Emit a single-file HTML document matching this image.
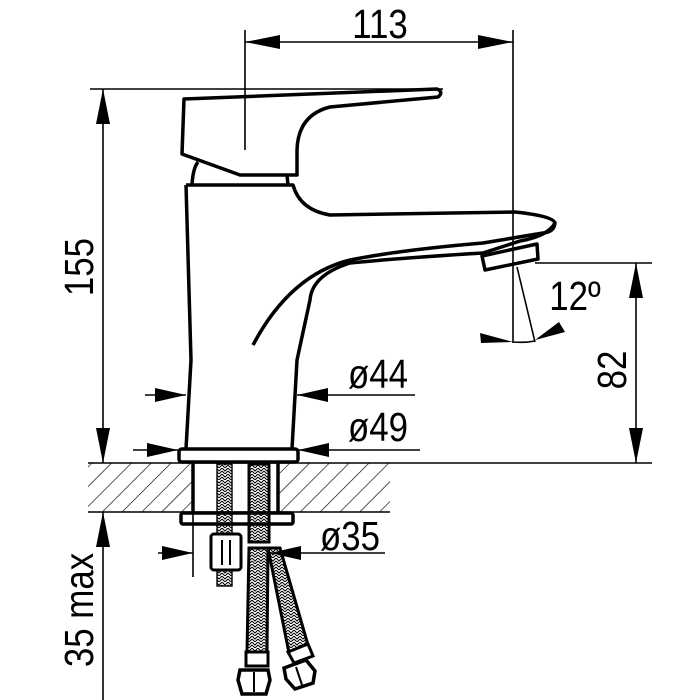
<!DOCTYPE html>
<html><head><meta charset="utf-8"><style>
html,body{margin:0;padding:0;background:#fff}
svg{display:block}
text{font-family:"Liberation Sans",sans-serif;font-size:41px;fill:#000}
</style></head><body>
<svg width="700" height="700" viewBox="0 0 700 700" xmlns="http://www.w3.org/2000/svg">
<defs>
<pattern id="h" patternUnits="userSpaceOnUse" width="14" height="14" patternTransform="rotate(45)">
<line x1="0" y1="0" x2="0" y2="14" stroke="#000" stroke-width="1.3"/>
</pattern>
<pattern id="b" patternUnits="userSpaceOnUse" width="6" height="6">
<path d="M0 0 L3 3 L6 0 M0 3 L3 6 L6 3" stroke="#000" stroke-width="1" fill="none"/>
</pattern>
</defs>
<rect x="88" y="463" width="302" height="49" fill="url(#h)"/>
<rect x="193" y="463" width="85" height="49" fill="#fff"/>
<g stroke="#000" stroke-width="1.6" fill="none">
<line x1="88" y1="463" x2="652" y2="463"/>
<line x1="88" y1="512" x2="390" y2="512"/>
<line x1="245" y1="30" x2="245" y2="150"/>
<line x1="513" y1="30" x2="513" y2="343"/>
<line x1="245" y1="42" x2="513" y2="42"/>
<line x1="90" y1="89" x2="443" y2="89"/>
<line x1="103" y1="89" x2="103" y2="463"/>
<line x1="103" y1="512" x2="103" y2="700"/>
<line x1="535" y1="263" x2="652" y2="263"/>
<line x1="636" y1="263" x2="636" y2="463"/>
<line x1="517" y1="267" x2="535" y2="342"/>
<path d="M513 342 Q525 343 535 341"/>
<line x1="145" y1="395" x2="186" y2="395"/>
<line x1="297" y1="395" x2="415" y2="395"/>
<line x1="133" y1="450" x2="178" y2="450"/>
<line x1="298" y1="450" x2="420" y2="450"/>
<line x1="158" y1="553" x2="193" y2="553"/>
<line x1="193" y1="512" x2="193" y2="577"/>
<line x1="270" y1="553" x2="385" y2="553"/>
</g>
<g fill="#000">
<polygon points="245,42 280,35 280,49"/>
<polygon points="513,42 478,35 478,49"/>
<polygon points="103,89 96,124 110,124"/>
<polygon points="103,463 96,428 110,428"/>
<polygon points="103,512 96,547 110,547"/>
<polygon points="636,263 629,298 643,298"/>
<polygon points="636,463 629,428 643,428"/>
<polygon points="186,395 155,388 155,402"/>
<polygon points="297,395 328,388 328,402"/>
<polygon points="178,450 147,443 147,457"/>
<polygon points="298,450 329,443 329,457"/>
<polygon points="193,553 162,546 162,560"/>
<polygon points="270,553 301,546 301,560"/>
<polygon points="513,342 480,333 481,343"/>
<polygon points="535,340 559,322 565,332"/>
</g>
<g stroke="#000" stroke-width="3.5" fill="none" stroke-linejoin="round">
<path d="M184 99 L437 89 Q444 92 438 97 L330 107 Q298 115 297 150 L297 175 L240 175 L182 154 Z"/>
<path d="M192 185 Q193 168 198 162"/>
<path d="M287 175 L288 185"/>
<path d="M186 185 L293 185 Q300 210 330 215 L515 212 Q553 216 555 223 Q554 232 543 233 L483 243 Q400 250 350 260 Q290 275 253 345"/>
<path d="M555 223 Q548 236 520 241 L483 253 Q400 258 350 263 Q312 275 310 300 L297 360 L292 449"/>
<path d="M186 185 L191 360 L186 449"/>
<path d="M482 256 L537 244 L538 259 L485 270 Z"/>
<rect x="179" y="449" width="119" height="13" rx="3"/>
<path d="M193 463 L193 512 M278 463 L278 512"/>
<rect x="181" y="513" width="112" height="11" rx="2"/>
</g>
<g stroke="#000" fill="none">
<rect x="217" y="464" width="15" height="122" stroke-width="1.4" fill="url(#b)"/>
<rect x="211" y="534" width="30" height="36" rx="3" stroke-width="3" fill="#fff"/>
<line x1="222" y1="540" x2="222" y2="565" stroke-width="2"/><line x1="230" y1="540" x2="230" y2="565" stroke-width="2"/>
<rect x="249" y="464" width="20" height="78" stroke-width="3" fill="url(#b)"/>
<polygon points="268,548 280,548 308,645 289,653" stroke-width="3" fill="url(#b)"/>
<polygon points="249,548 268,548 267,652 247,652" stroke-width="3" fill="url(#b)"/>
<path d="M246 652 h22 v14 h-22 z M288 652 l20 -8 l5 12 l-19 7 z" stroke-width="3" fill="#fff"/>
<path d="M240 670 h28 l2 10 l-4 14 h-24 l-4 -14 z M284 668 l22 -8 l9 11 l-2 12 l-18 6 l-9 -10 z" stroke-width="3.5" fill="#fff"/>
<path d="M254 672 v20 M296 667 l6 18" stroke-width="2"/>
</g>
<g>
<text x="380" y="38" text-anchor="middle" transform="translate(380 0) scale(0.85 1) translate(-380 0)">113</text>
<text x="0" y="0" text-anchor="middle" transform="translate(93 267) rotate(-90) scale(0.85 1)">155</text>
<text x="0" y="0" text-anchor="middle" transform="translate(626 370) rotate(-90) scale(0.85 1)">82</text>
<text x="0" y="0" text-anchor="middle" transform="translate(93 610) rotate(-90) scale(0.85 1)">35 max</text>
<text x="575" y="310" text-anchor="middle" transform="translate(575 0) scale(0.85 1) translate(-575 0)">12º</text>
<text x="378" y="388" text-anchor="middle" transform="translate(378 0) scale(0.85 1) translate(-378 0)">ø44</text>
<text x="378" y="441" text-anchor="middle" transform="translate(378 0) scale(0.85 1) translate(-378 0)">ø49</text>
<text x="350" y="550" text-anchor="middle" transform="translate(350 0) scale(0.85 1) translate(-350 0)">ø35</text>
</g>
</svg>
</body></html>
